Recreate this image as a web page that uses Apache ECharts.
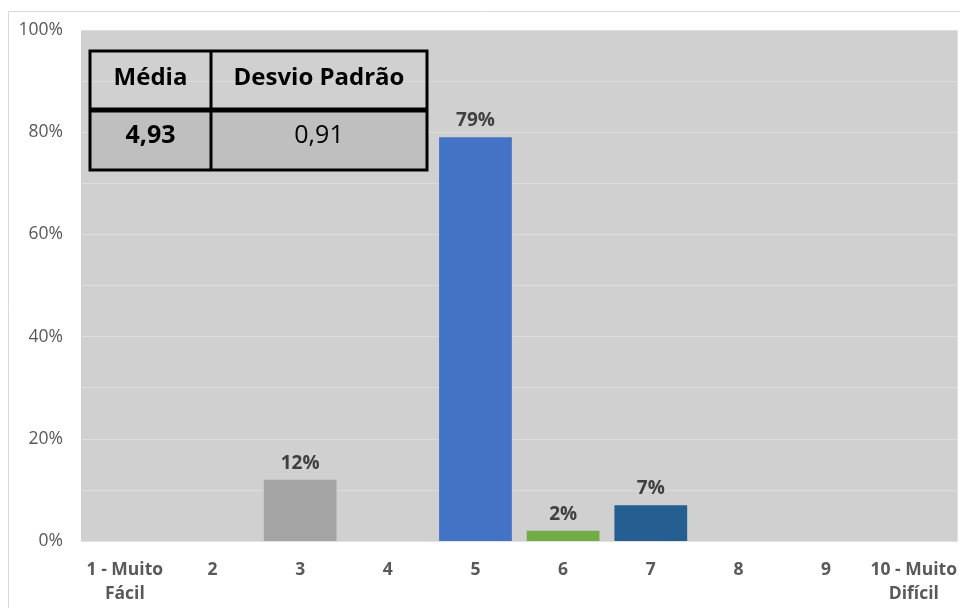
<!DOCTYPE html>
<html>
<head>
<meta charset="utf-8">
<script src="https://cdn.jsdelivr.net/npm/echarts@6/dist/echarts.min.js"></script>
<style>
  html, body { margin: 0; padding: 0; background: #ffffff; }
  #chart { width: 960px; height: 608px; }
</style>
</head>
<body>
<div id="chart"></div>
<script>
// Escala de dificuldade (1 a 10) e percentual de respostas
const categories = ['1 - Muito\nFácil', '2', '3', '4', '5', '6', '7', '8', '9', '10 - Muito\nDifícil'];
const percentages = [0, 0, 12, 0, 79, 2, 7, 0, 0, 0];
const barColors = ['#a5a5a5', '#a5a5a5', '#a5a5a5', '#a5a5a5', '#4472c4', '#70ad47', '#255e91', '#a5a5a5', '#a5a5a5', '#a5a5a5'];

// Resumo estatístico
const statHeaders = ['Média', 'Desvio Padrão'];
const statValues = ['4,93', '0,91'];

const FONT = '"Open Sans", "Noto Sans", sans-serif';

const chart = echarts.init(document.getElementById('chart'), null, { renderer: 'canvas' });

const tableX = 90, tableY = 51, tableW = 337, tableH = 119;
const colSplit = 211, rowSplit = 110;

chart.setOption({
  animation: false,
  backgroundColor: '#ffffff',
  grid: { left: 81, right: 2, top: 30, bottom: 67, backgroundColor: '#d0d0d0', show: true, borderWidth: 0 },
  xAxis: {
    type: 'category',
    data: categories,
    axisLine: { show: true, lineStyle: { color: '#e2e2e2', width: 1 } },
    axisTick: { show: false },
    axisLabel: {
      color: '#595959', fontFamily: FONT, fontSize: 17.5, fontWeight: 'bold',
      lineHeight: 24, margin: 17, interval: 0
    }
  },
  yAxis: {
    type: 'value',
    min: 0, max: 100, interval: 10,
    axisLine: { show: false },
    axisTick: { show: false },
    splitLine: { show: true, lineStyle: { color: '#dddddd', width: 1 } },
    axisLabel: {
      color: '#595959', fontFamily: FONT, fontSize: 17.5, margin: 18,
      formatter: v => (v % 20 === 0 ? v + '%' : '')
    }
  },
  series: [{
    type: 'bar',
    data: percentages.map((v, i) => ({ value: v, itemStyle: { color: barColors[i] } })),
    barWidth: '83%',
    label: {
      show: true, position: 'top', distance: 7,
      color: '#404040', fontFamily: FONT, fontSize: 19, fontWeight: 'bold',
      formatter: p => (p.value ? p.value + '%' : '')
    }
  }],
  graphic: [
    // moldura do gráfico
    { type: 'rect', silent: true, z: 0, shape: { x: 8.5, y: 11.5, width: 960, height: 620 },
      style: { fill: 'none', stroke: '#d9d9d9', lineWidth: 1 } },
    // tabela de estatísticas
    { type: 'rect', z: 10, shape: { x: tableX, y: rowSplit, width: tableW, height: tableY + tableH - rowSplit },
      style: { fill: '#bfbfbf' } },
    { type: 'rect', z: 11, shape: { x: tableX, y: tableY, width: tableW, height: tableH },
      style: { fill: 'none', stroke: '#000000', lineWidth: 3 } },
    { type: 'line', z: 11, shape: { x1: tableX, y1: rowSplit, x2: tableX + tableW, y2: rowSplit },
      style: { stroke: '#000000', lineWidth: 5 } },
    { type: 'line', z: 11, shape: { x1: colSplit, y1: tableY, x2: colSplit, y2: tableY + tableH },
      style: { stroke: '#000000', lineWidth: 3 } },
    { type: 'text', z: 12, style: { text: statHeaders[0], x: (tableX + colSplit) / 2, y: (tableY + rowSplit) / 2 - 2,
      align: 'center', verticalAlign: 'middle', font: 'bold 24px ' + FONT, fill: '#000000' } },
    { type: 'text', z: 12, style: { text: statHeaders[1], x: (colSplit + tableX + tableW) / 2, y: (tableY + rowSplit) / 2 - 2,
      align: 'center', verticalAlign: 'middle', font: 'bold 24px ' + FONT, fill: '#000000' } },
    { type: 'text', z: 12, style: { text: statValues[0], x: (tableX + colSplit) / 2, y: (rowSplit + tableY + tableH) / 2 - 4,
      align: 'center', verticalAlign: 'middle', font: 'bold 25px ' + FONT, fill: '#000000' } },
    { type: 'text', z: 12, style: { text: statValues[1], x: (colSplit + tableX + tableW) / 2, y: (rowSplit + tableY + tableH) / 2 - 4,
      align: 'center', verticalAlign: 'middle', font: '25px ' + FONT, fill: '#000000' } }
  ]
});
</script>
</body>
</html>
